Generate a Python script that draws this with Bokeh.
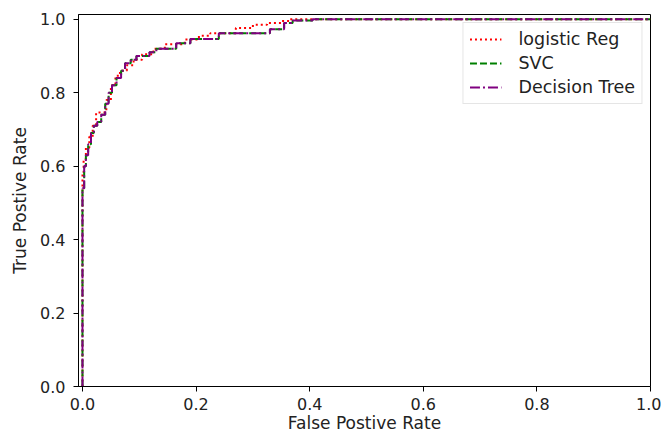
from bokeh.plotting import figure
from bokeh.models import Range1d, FixedTicker, PrintfTickFormatter, Legend, LegendItem
from bokeh.embed import file_html
from bokeh.resources import INLINE

# ROC data
fpr_lr = [0.0, 0.0, 0.002, 0.002, 0.006, 0.006, 0.012, 0.012, 0.018, 0.018, 0.024, 0.024,
          0.042, 0.042, 0.050, 0.050, 0.058, 0.058, 0.066, 0.066, 0.078, 0.078, 0.090, 0.090,
          0.105, 0.105, 0.125, 0.125, 0.145, 0.145, 0.180, 0.180, 0.205, 0.205, 0.225, 0.225,
          0.270, 0.270, 0.300, 0.300, 0.325, 0.325, 0.350, 0.350, 0.365, 0.365, 1.0]
tpr_lr = [0.0, 0.58, 0.58, 0.62, 0.62, 0.65, 0.65, 0.68, 0.68, 0.71, 0.71, 0.746,
          0.746, 0.78, 0.78, 0.82, 0.82, 0.846, 0.846, 0.86, 0.86, 0.875, 0.875, 0.89,
          0.89, 0.905, 0.905, 0.92, 0.92, 0.932, 0.932, 0.945, 0.945, 0.955, 0.955, 0.962,
          0.962, 0.976, 0.976, 0.985, 0.985, 0.99, 0.99, 0.995, 0.995, 1.0, 1.0]

fpr_svc = [0.0, 0.0, 0.003, 0.003, 0.006, 0.006, 0.010, 0.010, 0.015, 0.015, 0.020, 0.020,
           0.026, 0.026, 0.033, 0.033, 0.040, 0.040, 0.046, 0.046, 0.052, 0.052, 0.060, 0.060,
           0.068, 0.068, 0.075, 0.075, 0.085, 0.085, 0.095, 0.095, 0.118, 0.118, 0.130, 0.130,
           0.165, 0.165, 0.190, 0.190, 0.240, 0.240, 0.330, 0.330, 0.355, 0.355, 0.370, 0.370,
           0.405, 0.405, 1.0]
tpr_svc = [0.0, 0.54, 0.54, 0.60, 0.60, 0.63, 0.63, 0.66, 0.66, 0.69, 0.69, 0.71,
           0.71, 0.72, 0.72, 0.74, 0.74, 0.77, 0.77, 0.80, 0.80, 0.82, 0.82, 0.84,
           0.84, 0.86, 0.86, 0.88, 0.88, 0.89, 0.89, 0.90, 0.90, 0.91, 0.91, 0.92,
           0.92, 0.935, 0.935, 0.946, 0.946, 0.962, 0.962, 0.973, 0.973, 0.99, 0.99, 0.997,
           0.997, 1.0, 1.0]

fpr_dt = list(fpr_svc)
tpr_dt = list(tpr_svc)

series_labels = ["logistic Reg", "SVC", "Decision Tree"]
x_ticks = [0.0, 0.2, 0.4, 0.6, 0.8, 1.0]
y_ticks = [0.0, 0.2, 0.4, 0.6, 0.8, 1.0]
x_title = "False Postive Rate"
y_title = "True Postive Rate"

FONT = "DejaVu Sans"

p = figure(width=661, height=436, output_backend="svg", toolbar_location=None,
           x_range=Range1d(-0.007, 1.0), y_range=Range1d(0.0, 1.013),
           min_border_left=78, min_border_right=11, min_border_top=14, min_border_bottom=50,
           background_fill_color="white", border_fill_color="white")
p.grid.visible = False
p.outline_line_color = "black"
p.outline_line_width = 1

r1 = p.line(fpr_lr, tpr_lr, line_color="red", line_width=2, line_dash="2 3")
r2 = p.line(fpr_svc, tpr_svc, line_color="green", line_width=2, line_dash="7 3")
r3 = p.line(fpr_dt, tpr_dt, line_color="purple", line_width=2, line_dash="10 3 2 3")

for ax in (p.xaxis[0], p.yaxis[0]):
    ax.axis_line_color = "black"
    ax.major_tick_line_color = "black"
    ax.major_tick_out = 5
    ax.major_tick_in = 0
    ax.minor_tick_line_color = None
    ax.major_label_text_font = FONT
    ax.major_label_text_font_size = "16px"
    ax.major_label_text_color = "#222222"
    ax.axis_label_text_font = FONT
    ax.axis_label_text_font_size = "17px"
    ax.axis_label_text_font_style = "normal"
    ax.axis_label_text_color = "#222222"
    ax.formatter = PrintfTickFormatter(format="%.1f")

p.xaxis[0].major_label_standoff = 6
p.xaxis[0].axis_label_standoff = 0
p.yaxis[0].major_label_standoff = 8
p.yaxis[0].axis_label_standoff = 7

p.xaxis[0].ticker = FixedTicker(ticks=x_ticks)
p.yaxis[0].ticker = FixedTicker(ticks=y_ticks)
p.xaxis[0].axis_label = x_title
p.yaxis[0].axis_label = y_title

legend = Legend(items=[LegendItem(label=series_labels[0], renderers=[r1]),
                       LegendItem(label=series_labels[1], renderers=[r2]),
                       LegendItem(label=series_labels[2], renderers=[r3])],
                location="top_right")
legend.margin = 8
legend.padding = 6
legend.spacing = 4
legend.glyph_width = 32
legend.label_standoff = 17
legend.label_text_font = FONT
legend.label_text_font_size = "17.5px"
legend.label_text_color = "#222222"
legend.border_line_color = "#cccccc"
legend.border_line_width = 1
legend.background_fill_alpha = 0.8
p.add_layout(legend)

open("out.html", "w").write(file_html(p, INLINE))
